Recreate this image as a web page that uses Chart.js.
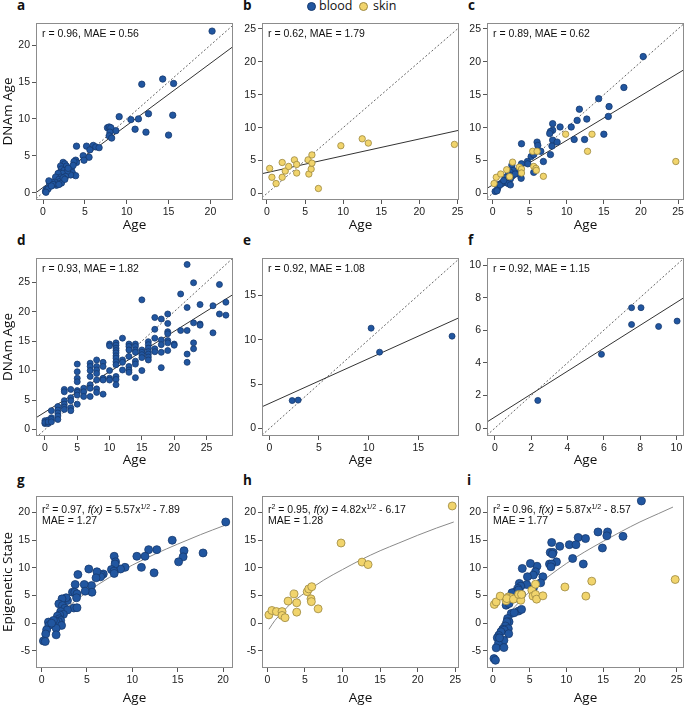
<!DOCTYPE html>
<html>
<head>
<meta charset="utf-8">
<script src="https://cdn.jsdelivr.net/npm/chart.js@4.4.1/dist/chart.umd.min.js"></script>
<style>
html, body { margin: 0; padding: 0; background: #fff; overflow: hidden; }
#wrap { position: relative; width: 685px; height: 705px; overflow: hidden; }
#wrap canvas { position: absolute; }
.tag { position: absolute; font: bold 13.5px "Open Sans", sans-serif; line-height: 13.5px; color: #111; }
.leg { position: absolute; font: 12.5px "Open Sans", sans-serif; line-height: 12.5px; color: #111; }
.dot { position: absolute; width: 9px; height: 9px; border-radius: 50%; box-sizing: border-box; }
</style>
</head>
<body>
<div id="wrap">
  <div class="tag" style="left:17px;top:-1px">a</div>
  <div class="tag" style="left:243px;top:-1px">b</div>
  <div class="tag" style="left:468px;top:-1px">c</div>
  <div class="tag" style="left:17px;top:234px">d</div>
  <div class="tag" style="left:243px;top:234px">e</div>
  <div class="tag" style="left:468px;top:234px">f</div>
  <div class="tag" style="left:17px;top:474px">g</div>
  <div class="tag" style="left:243px;top:474px">h</div>
  <div class="tag" style="left:467px;top:474px">i</div>
  <div class="dot" style="left:307px;top:2px;background:#2156a0;border:1px solid #163a6e"></div>
  <div class="leg" style="left:319px;top:0px">blood</div>
  <div class="dot" style="left:359px;top:2px;background:#f1d46c;border:1px solid #9c8840"></div>
  <div class="leg" style="left:373px;top:0px">skin</div>
</div>
<script>
// ---- data ----

// a: blood, DNAm age vs age
const aAge = [20.2, 14.3, 11.8, 15.6, 9.1, 10.5, 11.4, 12.6, 15.5, 11.0, 12.3, 15.0, 8.7, 7.7, 7.9, 8.1, 8.0, 7.9, 8.2, 4.0,
  5.2, 6.0, 6.3, 6.7, 5.6, 4.8, 5.5, 4.9, 3.9, 4.0, 3.7, 3.4, 3.6, 3.5, 3.9, 3.3, 2.4, 2.6, 2.1, 2.8,
  2.2, 2.5, 2.9, 2.0, 2.3, 1.8, 2.7, 2.1, 1.5, 1.9, 2.0, 1.7, 2.2, 1.4, 1.1, 0.8, 1.6, 0.7, 0.4, 0.3,
  0.6, 0.35, 1.2, 1.9, 2.4, 3.0, 2.6, 1.0];
const aDnam = [21.9, 15.4, 14.7, 14.8, 10.3, 9.9, 10.0, 10.7, 10.5, 8.6, 8.2, 7.8, 8.4, 8.8, 8.9, 8.8, 8.2, 7.7, 7.4, 6.3,
  6.3, 6.4, 6.2, 6.1, 5.8, 5.0, 4.8, 4.4, 4.4, 4.1, 4.2, 3.3, 3.7, 2.7, 2.3, 2.4, 4.1, 3.9, 3.6, 3.6,
  3.2, 3.0, 2.9, 2.7, 2.6, 2.6, 2.2, 2.1, 2.1, 1.8, 1.5, 1.2, 1.3, 1.4, 1.4, 1.2, 1.0, 1.6, 0.5, 0.2,
  0.5, 0.05, 1.1, 1.1, 2.0, 3.3, 1.8, 0.9];
const aFitAge = [-0.84, 22.7];
const aFitDnam = [0.0, 19.8];

// b: skin
const bAge = [0.35, 0.65, 1.2, 2.0, 2.0, 2.4, 2.85, 3.6, 3.9, 3.9, 5.4, 5.5, 5.8, 5.9, 5.9, 6.75, 9.7, 12.5, 13.3, 24.6];
const bDnam = [3.8, 2.45, 1.5, 4.7, 2.45, 3.4, 4.1, 5.1, 4.4, 3.1, 5.1, 2.95, 3.7, 4.6, 5.85, 0.75, 7.25, 8.3, 7.65, 7.45];
const bFitAge = [-0.65, 25.2];
const bFitDnam = [3.0, 9.6];

// c: blood + skin
const cBloodAge = [20.3, 17.7, 14.3, 15.7, 11.7, 11.4, 12.7, 15.6, 8.1, 9.1, 10.6, 8.1, 7.8, 7.7, 15.0, 11.0, 12.4, 8.1, 8.7, 8.0,
  6.0, 6.1, 3.9, 6.5, 7.8, 6.85, 5.2, 5.55, 4.7, 4.75, 5.55, 3.9, 3.85, 3.4, 3.5, 2.6, 2.8, 2.4, 2.15, 2.7,
  1.7, 1.9, 2.4, 1.7, 1.25, 2.1, 2.4, 0.8, 0.7, 0.35, 0.6, 1.0, 3.05, 1.5];
const cBloodDnam = [20.8, 16.1, 14.4, 13.2, 12.8, 11.1, 11.3, 11.7, 10.6, 10.1, 10.1, 9.6, 9.4, 9.1, 9.0, 8.2, 8.2, 8.1, 7.8, 7.2,
  7.8, 7.3, 7.55, 6.4, 5.9, 4.85, 5.6, 5.9, 4.85, 4.5, 3.2, 4.5, 2.3, 3.3, 2.95, 4.3, 3.5, 3.2, 2.85, 2.7,
  2.45, 1.95, 2.2, 1.7, 1.5, 1.5, 1.3, 1.3, 0.8, 0.3, 0.4, 1.3, 2.95, 1.95];
const cSkinAge = [5.4, 6.0, 2.7, 1.9, 0.5, 1.1, 0.2, 2.3, 3.6, 3.9, 3.9, 5.55, 5.85, 5.9, 6.85, 9.85, 13.4, 12.8, 24.7];
const cSkinDnam = [6.4, 6.4, 4.75, 3.6, 2.45, 2.95, 1.5, 2.55, 4.0, 3.7, 3.1, 4.1, 3.8, 3.5, 2.6, 9.0, 9.0, 6.4, 4.85];
const cFitAge = [-0.75, 25.8];
const cFitDnam = [0.77, 18.8];

// d: blood, second cohort
const dAge = [0, 0, 0, 0.5, 0.5, 0.5, 1, 1, 1, 1, 2, 2, 2, 2, 2, 3, 3, 3, 3, 3, 3, 4, 4, 4, 4, 4,
  5, 5, 5, 5, 5, 5, 5, 5, 6, 6, 6, 7, 7, 7, 7, 7, 7, 7, 8, 8, 8, 8, 8, 8, 8, 9, 9, 9, 9, 9,
  10, 10, 10, 10, 10, 11, 11, 11, 11, 11, 11, 11, 11, 11, 11, 11, 11, 12, 12, 12, 12,
  13, 13, 13, 13, 13, 13, 13, 14, 14, 14, 14, 14, 14, 14, 15, 15, 15, 15, 15, 15,
  16, 16, 16, 16, 16, 16, 16, 17, 17, 17, 17, 17, 18, 18, 18, 18, 18, 19, 19, 19, 19, 19, 19, 19,
  20, 20, 21, 21, 22, 22, 22, 22, 22, 23, 23, 23, 23, 24, 24, 24, 26, 26, 27, 27, 28, 28];
const dDnam = [1.0, 1.5, 1.2, 1.6, 1.0, 1.3, 3.2, 2.0, 1.7, 1.3, 3.9, 3.3, 2.8, 2.3, 1.7, 6.8, 6.4, 4.9, 4.3, 3.8, 3.4, 6.8, 5.4, 4.9, 3.7, 3.2,
  11.1, 9.8, 8.7, 8.1, 6.6, 6.3, 5.85, 4.3, 7.0, 6.4, 5.6, 11.25, 10.7, 10.0, 9.0, 7.6, 7.0, 5.6, 11.8, 10.7, 10.1, 9.5, 8.4, 6.9, 6.3, 11.4, 10.7, 8.7, 8.4, 6.0,
  14.5, 14.2, 10.0, 8.7, 8.4, 14.7, 14.3, 13.8, 13.4, 13.0, 12.5, 12.1, 11.5, 11.0, 9.0, 8.5, 7.6, 15.5, 11.8, 11.4, 10.1,
  14.5, 14.1, 13.5, 12.4, 10.7, 10.1, 9.7, 14.5, 14.1, 13.5, 13.1, 11.6, 11.1, 8.8, 22.0, 13.5, 13.1, 12.7, 12.2, 10.0,
  14.9, 14.4, 13.8, 13.2, 12.8, 12.3, 11.8, 19.0, 17.0, 15.5, 13.7, 13.2, 18.75, 15.2, 14.4, 13.1, 10.5, 19.6, 18.0, 16.6, 16.25, 15.1, 14.7, 13.4,
  14.5, 14.3, 23.0, 16.8, 28.0, 20.7, 16.8, 12.8, 11.4, 24.9, 18.1, 14.7, 13.7, 21.2, 17.9, 17.7, 21.0, 16.4, 24.6, 19.6, 21.6, 19.4];
const dFitAge = [-1.38, 29.1];
const dFitDnam = [2.0, 22.9];

// e, f: small blood cohorts
const eAge = [2.3, 2.9, 10.25, 11.1, 18.4];
const eDnam = [3.15, 3.2, 11.3, 8.6, 10.4];
const eFitAge = [-0.74, 19.1];
const eFitDnam = [2.45, 12.47];

const fAge = [2.36, 5.87, 7.53, 8.05, 7.53, 9.02, 10.04];
const fDnam = [1.69, 4.52, 7.38, 7.38, 6.35, 6.23, 6.56];
const fFitAge = [-0.44, 10.42];
const fFitDnam = [0.37, 8.0];

// g, h, i: epigenetic state vs age
const gAge = [20.3, 14.4, 15.7, 15.6, 15.1, 17.8, 11.8, 12.7, 10.5, 11.4, 11.0, 12.4, 9.2, 8.7, 8.0, 8.15, 8.1, 7.7, 7.97, 8.0,
  6.8, 6.6, 6.5, 6.1, 6.0, 5.5, 5.55, 5.2, 4.7, 4.8, 4.0, 3.7, 3.4, 3.65, 3.9, 3.85, 3.55, 3.9, 2.85, 2.7,
  2.25, 1.9, 2.3, 2.55, 2.85, 2.1, 2.4, 2.0, 1.75, 1.95, 2.1, 1.85, 1.55, 1.3, 2.2, 1.6, 0.75, 0.8, 0.55, 0.45,
  1.6, 0.2, 0.4, 1.1];
const gState = [18.3, 15.0, 13.1, 12.0, 11.1, 12.7, 13.3, 13.3, 12.1, 12.1, 10.1, 9.1, 10.1, 9.8, 12.1, 11.1, 10.7, 9.7, 9.4, 9.0,
  8.9, 8.7, 8.4, 9.3, 8.2, 6.8, 5.6, 9.8, 7.0, 5.8, 8.8, 7.0, 5.6, 5.6, 5.3, 4.6, 2.75, 2.8, 4.1, 4.6,
  4.4, 3.5, 3.2, 2.7, 2.4, 2.1, 1.6, 1.5, 1.3, 0.8, 0.5, 0.3, 0.3, 0.5, -0.4, -0.9, 0.2, -0.4, -1.2, -1.95,
  -2.1, -3.2, -3.3, 0.0];
const gCurveAge = [0.2, 1, 2, 3, 5, 7.5, 10, 12.5, 15, 17.5, 20.2];
const gCurveState = [-2.1, -0.2, 1.6, 3.1, 5.6, 8.3, 10.5, 12.5, 14.3, 16.0, 17.7];

const hAge = [0.2, 0.6, 1.2, 1.95, 1.95, 2.35, 2.75, 3.55, 3.9, 3.9, 5.3, 5.5, 5.9, 5.8, 5.85, 6.75, 9.8, 12.6, 13.4, 24.6];
const hState = [1.5, 2.3, 2.1, 2.1, 1.4, 1.0, 4.0, 5.3, 3.7, 2.0, 5.7, 6.2, 6.6, 4.4, 3.9, 2.6, 14.5, 11.05, 10.6, 21.2];
const hCurveAge = [0.2, 1, 2, 3, 5, 7.5, 10, 12.5, 15, 17.5, 20, 22.5, 24.8];
const hCurveState = [-1.1, 0.5, 2.0, 3.4, 5.5, 7.8, 9.7, 11.5, 13.1, 14.5, 15.9, 17.2, 18.3];

const iBloodAge = [20.2, 17.7, 14.3, 15.6, 15.5, 14.9, 11.6, 12.6, 10.4, 11.3, 9.1, 8.0, 7.8, 8.2, 8.1, 8.65, 10.85, 12.3, 7.7, 8.0,
  7.9, 6.0, 5.8, 5.1, 5.5, 4.7, 6.8, 6.5, 4.0, 4.6, 5.5, 3.6, 3.8, 3.4, 3.1, 2.6, 3.9, 3.0, 3.5, 2.0,
  1.8, 2.2, 3.5, 3.9, 2.5, 2.9, 2.0, 2.2, 1.9, 1.7, 2.1, 1.35, 1.55, 2.15, 1.1, 0.8, 0.6, 1.5, 0.75, 0.45,
  1.5, 0.15, 0.35, 0.9];
const iBloodState = [22.1, 15.7, 16.5, 16.5, 15.8, 13.6, 15.5, 15.3, 14.2, 14.2, 13.9, 14.6, 12.8, 12.8, 12.5, 11.1, 11.7, 10.7, 10.7, 10.7,
  10.2, 10.3, 9.3, 10.8, 8.7, 8.4, 8.4, 7.3, 9.9, 7.0, 6.3, 7.2, 6.7, 6.3, 5.7, 5.5, 5.2, 4.5, 6.0, 4.5,
  3.25, 3.55, 2.2, 2.5, 1.75, 1.9, 0.85, 0.25, 0.25, -0.5, -1.0, -1.1, -1.25, -1.9, -1.55, -2.2, -2.65, -3.1, -3.7, -4.45,
  -4.4, -6.4, -6.7, -2.65];
const iSkinAge = [0.2, 0.45, 1.0, 1.8, 2.1, 2.5, 1.9, 2.8, 3.8, 3.5, 3.9, 5.3, 5.8, 5.45, 5.8, 5.95, 6.8, 9.8, 12.65, 13.45, 24.8];
const iSkinState = [3.4, 3.85, 4.9, 4.05, 4.75, 4.6, 4.45, 4.35, 4.15, 5.2, 5.2, 5.95, 7.05, 4.9, 5.2, 4.35, 4.95, 6.55, 4.9, 7.6, 7.9];
const iCurveAge = [0.2, 1, 2, 3, 5, 7.5, 10, 12.5, 15, 17.5, 20, 22.5, 24.5];
const iCurveState = [-2.4, -0.5, 1.4, 3.0, 5.7, 8.4, 10.8, 12.9, 14.8, 16.6, 18.3, 19.8, 21.0];

// tick labels
const ticks0to20 = [0, 5, 10, 15, 20];
const ticks0to25 = [0, 5, 10, 15, 20, 25];
const ticks0to15 = [0, 5, 10, 15];
const ticks0to10 = [0, 2, 4, 6, 8, 10];
const ticksState = [-5, 0, 5, 10, 15, 20];

// ---- styling ----
const BLOOD = { fill: '#2156a0', edge: '#163a6e', order: 1 };
const SKIN = { fill: '#f1d46c', edge: '#9c8840', order: 0 };
const FONT = '"Liberation Sans", Arial, sans-serif';

// plot boxes in page pixels
const cols = [[36, 233], [262, 459], [487, 684]];
const rows = [[23, 200], [258, 436], [496, 668]];
const axisH = [33, 32, 38];
const PAD_T = 10, PAD_R = 8;

function pts(xs, ys) {
    return xs.map((x, i) => ({ x: x, y: ys[i] }));
}

function dots(xs, ys, kind, r) {
    return {
        data: pts(xs, ys),
        pointRadius: r,
        pointBackgroundColor: kind.fill,
        pointBorderColor: kind.edge,
        pointBorderWidth: 0.8,
        showLine: false,
        order: kind.order
    };
}

function line(xs, ys, color, dash, smooth) {
    return {
        data: pts(xs, ys),
        showLine: true,
        pointRadius: 0,
        borderColor: color,
        borderWidth: 1,
        borderDash: dash || [],
        cubicInterpolationMode: smooth ? 'monotone' : 'default',
        order: 5,
        clip: 0
    };
}

// identity line y = x across the axis range
function identity(range) {
    return line(range, range, '#666', [2, 2]);
}

// box round the plot area
const frame = {
    id: 'frame',
    afterDraw(chart) {
        const { ctx, chartArea: a } = chart;
        ctx.save();
        ctx.strokeStyle = '#8c8c8c';
        ctx.lineWidth = 1;
        ctx.strokeRect(Math.round(a.left) + 0.5, Math.round(a.top) + 0.5,
            Math.round(a.right - a.left) - 1, Math.round(a.bottom - a.top) - 1);
        ctx.restore();
    }
};

// statistics text in the top left corner
const note = {
    id: 'note',
    afterDraw(chart, args, opts) {
        const { ctx, chartArea: a } = chart;
        ctx.save();
        ctx.fillStyle = '#111';
        ctx.textBaseline = 'alphabetic';
        (opts.lines || []).forEach((segs, i) => {
            let x = a.left + 6;
            const y = a.top + opts.base + i * 11.5;
            segs.forEach(seg => {
                const size = seg.sup ? 7 : 10.5;
                ctx.font = (seg.it ? 'italic ' : '') + size + 'px ' + FONT;
                ctx.fillText(seg.t, x, y - (seg.sup ? 4 : 0));
                x += ctx.measureText(seg.t).width;
            });
        });
        ctx.restore();
    }
};

function plain(s) { return [[{ t: s }]]; }
function fitNote(r2, a, b, mae) {
    return [
        [{ t: 'r' }, { t: '2', sup: true }, { t: ' = ' + r2 + ', ' }, { t: 'f(x)', it: true },
         { t: ' = ' + a + 'x' }, { t: '1/2', sup: true }, { t: ' - ' + b }],
        [{ t: 'MAE = ' + mae }]
    ];
}

const panels = [
    { c: 0, r: 0, x: [-0.84, 22.7], y: [-1.0, 23.0], xt: ticks0to20, yt: ticks0to20, ytitle: 'DNAm Age',
      note: plain('r = 0.96, MAE = 0.56'),
      sets: [dots(aAge, aDnam, BLOOD, 3.2), line(aFitAge, aFitDnam, '#333'), identity([-0.84, 22.7])] },
    { c: 1, r: 0, x: [-0.65, 25.2], y: [-1.0, 25.9], xt: ticks0to25, yt: ticks0to25,
      note: plain('r = 0.62, MAE = 1.79'),
      sets: [dots(bAge, bDnam, SKIN, 3.2), line(bFitAge, bFitDnam, '#333'), identity([-0.65, 25.2])] },
    { c: 2, r: 0, x: [-0.75, 25.8], y: [-1.0, 25.9], xt: ticks0to25, yt: ticks0to25,
      note: plain('r = 0.89, MAE = 0.62'),
      sets: [dots(cSkinAge, cSkinDnam, SKIN, 3.2), dots(cBloodAge, cBloodDnam, BLOOD, 3.2),
             line(cFitAge, cFitDnam, '#333'), identity([-0.75, 25.8])] },
    { c: 0, r: 1, x: [-1.38, 29.1], y: [-1.1, 29.1], xt: ticks0to25, yt: ticks0to25, ytitle: 'DNAm Age',
      note: plain('r = 0.93, MAE = 1.82'),
      sets: [dots(dAge, dDnam, BLOOD, 3.0), line(dFitAge, dFitDnam, '#333'), identity([-1.38, 29.1])] },
    { c: 1, r: 1, x: [-0.74, 19.1], y: [-0.84, 19.2], xt: ticks0to15, yt: ticks0to15,
      note: plain('r = 0.92, MAE = 1.08'),
      sets: [dots(eAge, eDnam, BLOOD, 3.0), line(eFitAge, eFitDnam, '#333'), identity([-0.74, 19.1])] },
    { c: 2, r: 1, x: [-0.44, 10.42], y: [-0.49, 10.43], xt: ticks0to10, yt: ticks0to10,
      note: plain('r = 0.92, MAE = 1.15'),
      sets: [dots(fAge, fDnam, BLOOD, 3.0), line(fFitAge, fFitDnam, '#333'), identity([-0.44, 10.42])] },
    { c: 0, r: 2, x: [-0.62, 21.1], y: [-8.1, 23.0], xt: ticks0to20, yt: ticksState, ytitle: 'Epigenetic State',
      note: fitNote('0.97', '5.57', '7.89', '1.27'),
      sets: [dots(gAge, gState, BLOOD, 4.0), line(gCurveAge, gCurveState, '#8a8a8a', null, true)] },
    { c: 1, r: 2, x: [-0.72, 25.5], y: [-8.1, 23.0], xt: ticks0to25, yt: ticksState,
      note: fitNote('0.95', '4.82', '6.17', '1.28'),
      sets: [dots(hAge, hState, SKIN, 4.0), line(hCurveAge, hCurveState, '#8a8a8a', null, true)] },
    { c: 2, r: 2, x: [-0.8, 26.0], y: [-8.1, 23.0], xt: ticks0to25, yt: ticksState,
      note: fitNote('0.96', '5.87', '8.57', '1.77'),
      sets: [dots(iSkinAge, iSkinState, SKIN, 4.0), dots(iBloodAge, iBloodState, BLOOD, 4.0),
             line(iCurveAge, iCurveState, '#8a8a8a', null, true)] }
];

const wrap = document.getElementById('wrap');

function tickOpts() {
    return { font: { family: FONT, size: 10.5 }, color: '#222', padding: 2 };
}

function drawPanel(p) {
    const [bl, br] = cols[p.c];
    const [bt, bb] = rows[p.r];
    const yw = p.c === 0 ? 36 : 30;
    const xh = axisH[p.r];
    const left = bl - yw, top = bt - PAD_T;
    const w = br - left + PAD_R, h = bb - top + xh;

    const canvas = document.createElement('canvas');
    canvas.width = w;
    canvas.height = h;
    canvas.style.left = left + 'px';
    canvas.style.top = top + 'px';
    canvas.style.width = w + 'px';
    canvas.style.height = h + 'px';
    wrap.appendChild(canvas);

    new Chart(canvas, {
        type: 'scatter',
        data: { datasets: p.sets },
        options: {
            responsive: false,
            animation: false,
            devicePixelRatio: 1,
            layout: { padding: { top: PAD_T, right: PAD_R, left: 0, bottom: 0 } },
            plugins: {
                legend: { display: false },
                tooltip: { enabled: false },
                note: { lines: p.note, base: p.r === 2 ? 16.5 : 14 }
            },
            scales: {
                x: {
                    type: 'linear', min: p.x[0], max: p.x[1],
                    afterBuildTicks: s => { s.ticks = p.xt.map(v => ({ value: v })); },
                    afterFit: s => { s.height = xh; },
                    grid: { drawOnChartArea: false, tickLength: 4, color: '#555' },
                    border: { display: false },
                    ticks: tickOpts(),
                    title: { display: true, text: 'Age', color: '#111', padding: 0,
                             font: { family: '"Open Sans", sans-serif', size: 13.5 } }
                },
                y: {
                    type: 'linear', min: p.y[0], max: p.y[1],
                    afterBuildTicks: s => { s.ticks = p.yt.map(v => ({ value: v })); },
                    afterFit: s => { s.width = yw; },
                    grid: { drawOnChartArea: false, tickLength: 4, color: '#555' },
                    border: { display: false },
                    ticks: tickOpts(),
                    title: { display: !!p.ytitle, text: p.ytitle || '', color: '#111', padding: 0,
                             font: { family: '"Open Sans", sans-serif', size: 13.5 } }
                }
            }
        },
        plugins: [frame, note]
    });
}

panels.forEach(drawPanel);
</script>
</body>
</html>
